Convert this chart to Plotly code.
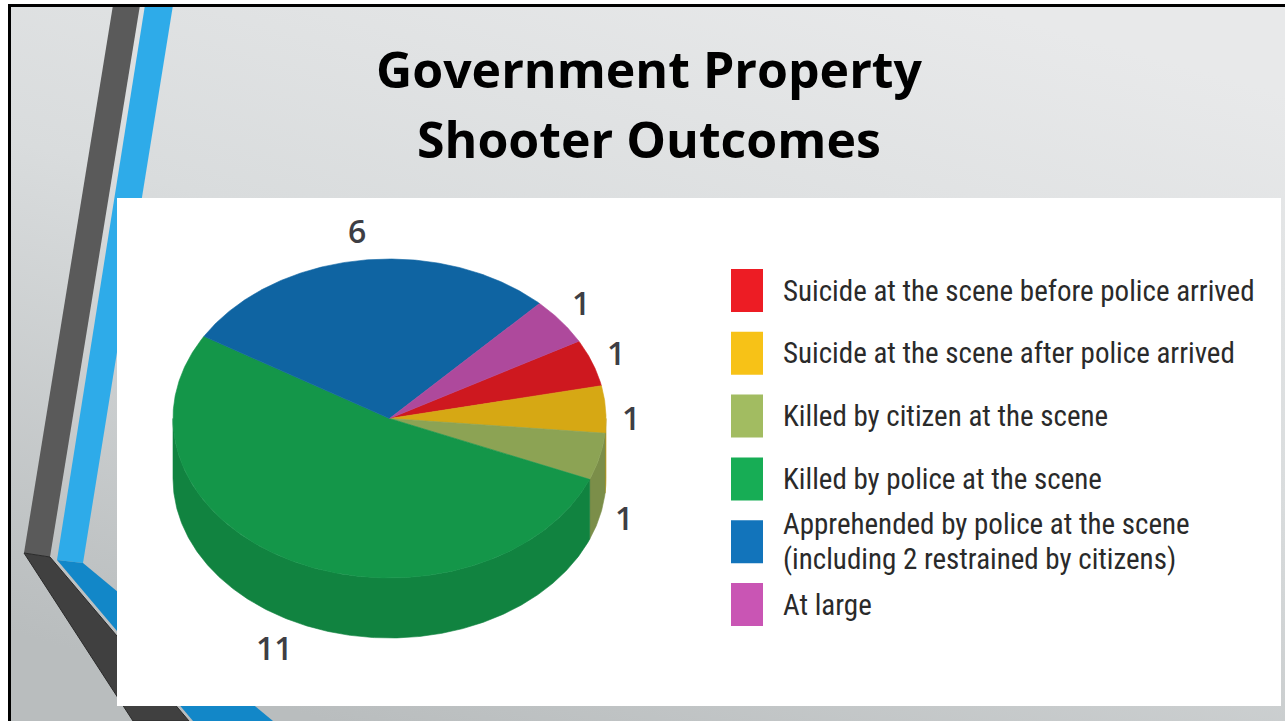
import math
import base64
import plotly.graph_objects as go

# ---- chart content -------------------------------------------------------
title_lines = ["Government Property", "Shooter Outcomes"]

categories = [
    "Suicide at the scene before police arrived",
    "Suicide at the scene after police arrived",
    "Killed by citizen at the scene",
    "Killed by police at the scene",
    "Apprehended by police at the scene\n(including 2 restrained by citizens)",
    "At large",
]
counts = [1, 1, 1, 11, 6, 1]
swatch_colors = ["#ed1c24", "#f7c217", "#a2bc61", "#17ad55", "#1274bb", "#c955b4"]

# ---- page / geometry ----------------------------------------------------
W, H = 1285, 721
CX, CY = 389.5, 418.5        # centre of the pie's top face
RX, RY = 216.5, 159.5        # radii of the tilted top face
DEPTH = 60                   # thickness of the pie
START = 29.0                 # angle (deg, ccw from east) where the first slice starts

LEGEND_FONT = "Roboto Condensed, Liberation Sans Narrow, DejaVu Sans Condensed, sans-serif"


def shade(hex_color, f):
    h = hex_color.lstrip("#")
    r, g, b = (int(h[i:i + 2], 16) for i in (0, 2, 4))
    return "#%02x%02x%02x" % (int(r * f), int(g * f), int(b * f))


def ellipse_pt(deg, dy=0.0):
    t = math.radians(deg)
    return CX + RX * math.cos(t), CY - RY * math.sin(t) + dy


def arc(a_from, a_to, dy=0.0, step=0.5):
    n = max(2, int(abs(a_to - a_from) / step) + 1)
    pts = [ellipse_pt(a_from + (a_to - a_from) * i / (n - 1), dy) for i in range(n)]
    return [p[0] for p in pts], [p[1] for p in pts]


total = sum(counts)
slices = []
acc = 0
for v in counts:
    hi = START - 360.0 * acc / total
    acc += v
    lo = START - 360.0 * acc / total
    slices.append((lo, hi))

fig = go.Figure()

# side walls (front half of the rim only)
for (lo, hi), col in zip(slices, swatch_colors):
    for k in (-1, 0, 1):
        a = max(lo, -180 + 360 * k)
        b = min(hi, 0 + 360 * k)
        if b - a <= 0:
            continue
        tx, ty = arc(b, a)
        bx, by = arc(a, b, dy=DEPTH)
        c = shade(col, 0.76)
        fig.add_trace(go.Scatter(
            x=tx + bx + [tx[0]], y=ty + by + [ty[0]],
            mode="lines", fill="toself", fillcolor=c,
            line=dict(color=c, width=0.6), hoverinfo="skip"))

# top faces
for (lo, hi), col, name, v in zip(slices, swatch_colors, categories, counts):
    ax, ay = arc(hi, lo)
    c = shade(col, 0.87)
    fig.add_trace(go.Scatter(
        x=[CX] + ax + [CX], y=[CY] + ay + [CY],
        mode="lines", fill="toself", fillcolor=c,
        line=dict(color=c, width=0.6),
        name=name.replace("\n", " "), hovertemplate="%{fullData.name}: " + str(v) + "<extra></extra>"))

annotations = []

# value labels placed outside each slice (pushed a little further out on the left side)
for (lo, hi), v in zip(slices, counts):
    m = math.radians((lo + hi) / 2)
    s, c = math.sin(m), math.cos(m)
    lx = CX + (RX + 25 + 30 * max(0.0, -c)) * c
    ly = CY - (RY + 30) * s + DEPTH * min(1.0, max(0.0, 0.3 - 2.5 * s))
    annotations.append(dict(
        x=lx, y=ly, xref="x", yref="y", text=str(v), showarrow=False,
        xanchor="center", yanchor="middle",
        font=dict(family="Open Sans, sans-serif", size=32, color="#3e3e44", weight=600)))

# legend: swatches + labels
LEG_X, LEG_Y0, LEG_STEP = 731, 290.5, 62.8
SW_W, SW_H = 32, 43
shapes = []

# slide background (gradient) and frame
grad_svg = (
    "<svg xmlns='http://www.w3.org/2000/svg' width='1277' height='717' preserveAspectRatio='none'>"
    "<defs><linearGradient id='g' x1='0.25' y1='1' x2='0.75' y2='0'>"
    "<stop offset='0' stop-color='#b9bdbe'/><stop offset='0.55' stop-color='#d9dcdd'/>"
    "<stop offset='1' stop-color='#e8e9ea'/></linearGradient></defs>"
    "<rect width='100%' height='100%' fill='url(#g)'/></svg>")
grad_uri = "data:image/svg+xml;base64," + base64.b64encode(grad_svg.encode()).decode()


def poly(pts, fill, line=None):
    d = "M " + " L ".join("%g,%g" % p for p in pts) + " Z"
    return dict(type="path", path=d, xref="x", yref="y", fillcolor=fill,
                line=dict(width=0 if line is None else 1, color=line or fill), layer="below")


# decorative stripes on the left of the slide
shapes.append(poly([(113, 5), (140, 5), (50, 557), (24, 553)], "#5a5a5a"))
shapes.append(poly([(24, 553), (50, 557), (189, 721), (133, 721)], "#404040", "#2a2a2a"))
shapes.append(poly([(145, 5), (173, 5), (83, 563), (57, 560)], "#2eabe9"))
shapes.append(poly([(57, 560), (83, 563), (273, 721), (193, 721)], "#1287c8"))

# white chart panel
shapes.append(dict(type="rect", xref="x", yref="y", x0=117, x1=1281, y0=198, y1=706,
                   fillcolor="white", line=dict(width=0), layer="below"))

# slide frame
shapes.append(dict(type="line", xref="x", yref="y", x0=9.5, x1=9.5, y0=4, y1=H,
                   line=dict(color="black", width=3)))
shapes.append(dict(type="line", xref="x", yref="y", x0=8, x1=W, y0=5.5, y1=5.5,
                   line=dict(color="black", width=3)))

for i, (name, col) in enumerate(zip(categories, swatch_colors)):
    yc = LEG_Y0 + i * LEG_STEP
    shapes.append(dict(type="rect", xref="x", yref="y", x0=LEG_X, x1=LEG_X + SW_W,
                       y0=yc - SW_H / 2, y1=yc + SW_H / 2, fillcolor=col,
                       line=dict(width=0)))
    lines = name.split("\n")
    n = len(lines)
    for j, ln in enumerate(lines):
        annotations.append(dict(
            x=781, y=yc + (j - (n - 1) / 2) * 34.5, xref="x", yref="y", text=ln,
            showarrow=False, xanchor="left", yanchor="middle",
            font=dict(family=LEGEND_FONT, size=29, color="#2a2a2a")))

# title
for j, t in enumerate(title_lines):
    annotations.append(dict(
        x=649, y=69 + 70 * j, xref="x", yref="y", text=t, showarrow=False,
        xanchor="center", yanchor="middle",
        font=dict(family="Open Sans, sans-serif", size=50, color="black", weight=700)))

fig.update_layout(
    width=W, height=H, margin=dict(l=0, r=0, t=0, b=0),
    paper_bgcolor="white", plot_bgcolor="rgba(0,0,0,0)",
    showlegend=False,
    xaxis=dict(range=[0, W], visible=False, fixedrange=True),
    yaxis=dict(range=[H, 0], visible=False, fixedrange=True),
    shapes=shapes, annotations=annotations,
    images=[dict(source=grad_uri, xref="paper", yref="paper", x=8 / W, y=1 - 4 / H,
                 sizex=(W - 8) / W, sizey=(H - 4) / H, xanchor="left", yanchor="top",
                 sizing="stretch", layer="below")],
)

fig.write_html("out.html", config=dict(displayModeBar=False))
